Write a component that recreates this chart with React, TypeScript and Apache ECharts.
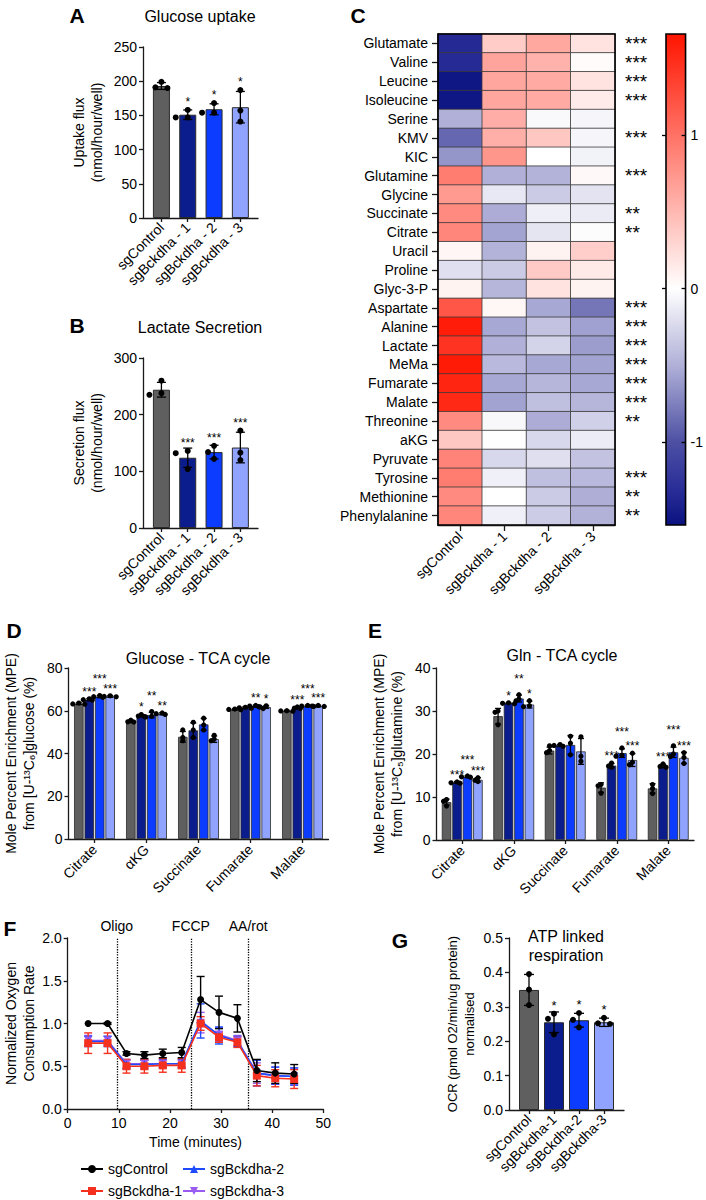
import React, { useEffect, useRef } from "react";
import * as echarts from "echarts";

const FONT = "'Liberation Sans', Arial, Helvetica, sans-serif";

// ---------- shared categories / colours ----------
const barCats = ["sgControl", "sgBckdha - 1", "sgBckdha - 2", "sgBckdha - 3"];
const gCats = ["sgControl", "sgBckdha-1", "sgBckdha-2", "sgBckdha-3"];
const barColors = ["#5f5f5f", "#0b1d8c", "#0c3cff", "#8fa3ff"];

// ---------- A: glucose uptake ----------
const aMeans = [193, 151, 159, 162];
const aErr = [5, 7, 8, 23];
const aPoints = [[199, 191, 190], [158, 147, 147], [168, 154, 154], [187, 157, 141]];
const aStars = ["", "*", "*", "*"];

// ---------- B: lactate secretion ----------
const bMeans = [244, 124, 134, 142];
const bErr = [13, 17, 12, 27];
const bPoints = [[260, 235, 238], [136, 104, 132], [145, 134, 122], [172, 133, 120]];
const bStars = ["", "***", "***", "***"];

// ---------- C: heatmap ----------
const metabolites = ["Glutamate", "Valine", "Leucine", "Isoleucine", "Serine", "KMV", "KIC", "Glutamine", "Glycine", "Succinate", "Citrate", "Uracil", "Proline", "Glyc-3-P", "Aspartate", "Alanine", "Lactate", "MeMa", "Fumarate", "Malate", "Threonine", "aKG", "Pyruvate", "Tyrosine", "Methionine", "Phenylalanine"];
const hmControl = [-1.34, -1.33, -1.5, -1.5, -0.5, -0.88, -0.64, 0.93, 0.72, 0.83, 0.86, 0.07, -0.2, 0.09, 1.2, 1.6, 1.45, 1.62, 1.55, 1.52, 0.83, 0.4, 0.88, 0.93, 0.83, 0.86];
const hmKo1 = [0.36, 0.65, 0.63, 0.63, 0.58, 0.57, 0.75, -0.5, -0.15, -0.52, -0.56, -0.48, -0.33, -0.46, 0.06, -0.54, -0.5, -0.44, -0.54, -0.57, -0.05, -0.01, -0.25, -0.09, 0, -0.09];
const hmKo2 = [0.62, 0.55, 0.6, 0.6, -0.04, 0.4, 0, -0.48, -0.33, -0.1, -0.17, 0.09, 0.38, 0.2, -0.54, -0.38, -0.28, -0.54, -0.46, -0.41, -0.52, -0.25, -0.2, -0.41, -0.33, -0.32];
const hmKo3 = [0.2, 0.03, 0.2, 0.14, -0.06, -0.06, -0.08, 0.05, -0.18, -0.13, -0.02, 0.35, 0.15, 0.09, -0.8, -0.58, -0.6, -0.57, -0.54, -0.46, -0.3, -0.12, -0.38, -0.44, -0.51, -0.49];
const hmStars = ["***", "***", "***", "***", "", "***", "", "***", "", "**", "**", "", "", "", "***", "***", "***", "***", "***", "***", "**", "", "", "***", "**", "**"];
const cbMin = -1.54;
const cbMax = 1.66;
const cbTicks = [-1, 0, 1];

// ---------- D / E: TCA labelling ----------
const tcaCats = ["Citrate", "αKG", "Succinate", "Fumarate", "Malate"];
const dMeans = [
  [63.3, 55.0, 47.8, 60.6, 59.9],
  [65.2, 57.6, 50.8, 61.4, 61.3],
  [66.6, 58.0, 53.6, 62.2, 62.2],
  [66.7, 58.6, 46.7, 61.7, 62.2],
];
const dErr = [
  [0.4, 0.6, 2.5, 0.3, 0.3],
  [0.5, 0.5, 3.5, 0.4, 0.5],
  [0.5, 1.3, 2.8, 0.4, 0.4],
  [0.4, 0.5, 1.5, 0.6, 0.4],
];
const dPoints = [
  [[63.6, 63.2, 63.1], [55.6, 54.8, 54.7], [51, 46, 47.5], [60.8, 60.6, 60.5], [60.0, 59.9, 59.8]],
  [[65.6, 65.2, 65.0], [58.2, 57.5, 57.3], [54.6, 51, 47.5], [61.6, 61.4, 61.2], [61.8, 61.2, 61.0]],
  [[67.1, 66.6, 66.3], [59.6, 57.4, 57.1], [56.5, 53.3, 51], [62.5, 62.2, 61.9], [62.5, 62.2, 62.0]],
  [[67.0, 66.7, 66.5], [59.0, 58.6, 58.3], [48.5, 46, 46.8], [62.3, 61.8, 61.0], [62.5, 62.2, 62.0]],
];
const dStars = [
  ["", "", "", "", ""],
  ["***", "*", "", "", "***"],
  ["***", "**", "", "**", "***"],
  ["***", "**", "", "*", "***"],
];
const eMeans = [
  [8.8, 28.8, 20.8, 12.2, 12.0],
  [13.4, 31.8, 22.0, 17.3, 17.2],
  [14.7, 32.9, 22.1, 20.2, 20.4],
  [14.0, 31.5, 20.6, 18.6, 19.1],
];
const eErr = [
  [0.7, 1.8, 0.8, 1.1, 1.1],
  [0.2, 0.1, 0.2, 0.5, 0.4],
  [0.2, 0.8, 2.2, 1.0, 1.2],
  [0.5, 0.8, 3.0, 1.5, 1.3],
];
const ePoints = [
  [[9.4, 9.0, 7.9], [30, 29.7, 26.8], [21.9, 20.8, 20.3], [12.9, 12.6, 10.9], [12.9, 12.0, 10.8]],
  [[13.5, 13.3, 13.2], [31.9, 31.8, 31.7], [22.2, 22.0, 21.8], [17.9, 17.2, 16.9], [17.7, 17.1, 16.9]],
  [[14.9, 14.7, 14.6], [33.8, 32.8, 32.3], [24.1, 22.5, 19.8], [21.4, 19.7, 19.5], [21.9, 20.0, 19.4]],
  [[14.5, 13.9, 13.6], [32.4, 31.2, 31.0], [24, 19.5, 18.3], [20.2, 17.5, 18.1], [20.3, 19.2, 17.8]],
];
const eStars = [
  ["", "", "", "", ""],
  ["***", "*", "", "***", "***"],
  ["***", "**", "", "***", "***"],
  ["***", "*", "", "***", "***"],
];

// ---------- F: Seahorse OCR ----------
const times = [4.0, 7.8, 11.5, 15.0, 18.6, 22.3, 26.0, 29.6, 33.2, 37.0, 40.6, 44.3];
const ctrlOcr = [1.0, 1.0, 0.65, 0.63, 0.65, 0.66, 1.28, 1.13, 1.06, 0.45, 0.42, 0.41];
const ctrlErr = [0, 0.01, 0.02, 0.04, 0.05, 0.06, 0.27, 0.19, 0.16, 0.13, 0.12, 0.11];
const ko1Ocr = [0.77, 0.77, 0.5, 0.5, 0.51, 0.51, 1.0, 0.84, 0.78, 0.39, 0.36, 0.35];
const ko1Err = [0.12, 0.12, 0.08, 0.08, 0.08, 0.08, 0.08, 0.06, 0.06, 0.12, 0.1, 0.11];
const ko2Ocr = [0.79, 0.79, 0.52, 0.52, 0.53, 0.53, 1.03, 0.86, 0.79, 0.42, 0.39, 0.38];
const ko2Err = [0.06, 0.06, 0.05, 0.05, 0.05, 0.05, 0.2, 0.1, 0.06, 0.15, 0.1, 0.1];
const ko3Ocr = [0.8, 0.8, 0.53, 0.53, 0.53, 0.53, 1.01, 0.87, 0.8, 0.42, 0.39, 0.38];
const ko3Err = [0.06, 0.05, 0.05, 0.04, 0.04, 0.04, 0.12, 0.08, 0.06, 0.12, 0.1, 0.1];
const injTimes = [9.6, 24.1, 35.3];
const injNames = ["Oligo", "FCCP", "AA/rot"];
const lineNames = ["sgControl", "sgBckdha-1", "sgBckdha-2", "sgBckdha-3"];
const lineColors = ["#000000", "#f5301e", "#1f4bff", "#9a5cf0"];

// ---------- G: ATP linked respiration ----------
const gMeans = [0.349, 0.255, 0.261, 0.255];
const gErr = [0.045, 0.03, 0.02, 0.012];
const gPoints = [[0.395, 0.35, 0.305], [0.28, 0.265, 0.22], [0.282, 0.262, 0.24], [0.268, 0.252, 0.25]];
const gStars = ["", "*", "*", "*"];

// ---------- helpers ----------
const hex = (c: string) => [1, 3, 5].map((k) => parseInt(c.slice(k, k + 2), 16));
const toHex = (a: number[]) => "#" + a.map((v) => Math.round(v).toString(16).padStart(2, "0")).join("");
const colorStops: [number, string][] = [
  [cbMin, "#0a1280"],
  [-1.3, "#2a2e98"],
  [-1.0, "#4d50a3"],
  [-0.5, "#b0b0d8"],
  [0, "#ffffff"],
  [cbMax, "#ff1500"],
];
function colorAt(v: number) {
  for (let k = 0; k < colorStops.length - 1; k++) {
    const [v0, c0] = colorStops[k];
    const [v1, c1] = colorStops[k + 1];
    if (v <= v1 + 1e-9) {
      const t = Math.max(0, Math.min(1, (v - v0) / (v1 - v0)));
      const a = hex(c0), b = hex(c1);
      return toHex(a.map((x, i) => x + (b[i] - x) * t));
    }
  }
  return colorStops[colorStops.length - 1][1];
}
const NSTEP = 161;
const vmColors = Array.from({ length: NSTEP }, (_, k) => colorAt(cbMin + (k * (cbMax - cbMin)) / (NSTEP - 1)));

const axLine = (show = true) => ({ show, onZero: false, lineStyle: { color: "#1a1a1a", width: 1.3 } });
const axTick = (len = 4, inside = false) => ({ show: true, length: len, inside, lineStyle: { color: "#1a1a1a", width: 1.3 } });
const lbl = (size: number, extra: any = {}) => ({ color: "#000", fontSize: size, fontFamily: FONT, ...extra });

function overlay(xi: number, yi: number, means: number[], errs: number[], pts: number[][], stars: string[], o: any) {
  return {
    type: "custom",
    xAxisIndex: xi,
    yAxisIndex: yi,
    z: 6,
    silent: true,
    data: means.map((m, i) => [i, m]),
    encode: { x: 0, y: 1 },
    renderItem: (params: any, api: any) => {
      const i = params.dataIndex;
      const base = api.coord([i, means[i]]);
      const x = base[0] + o.offset;
      const hiY = api.coord([i, means[i] + errs[i]])[1];
      const loY = api.coord([i, means[i] - errs[i]])[1];
      const ch: any[] = [];
      const ls = { stroke: "#000", lineWidth: 1.3 };
      if (errs[i] > 0) {
        ch.push({ type: "line", shape: { x1: x, y1: hiY, x2: x, y2: loY }, style: ls });
        ch.push({ type: "line", shape: { x1: x - o.cap, y1: hiY, x2: x + o.cap, y2: hiY }, style: ls });
        ch.push({ type: "line", shape: { x1: x - o.cap, y1: loY, x2: x + o.cap, y2: loY }, style: ls });
      }
      const r = o.r;
      const ys = pts[i].map((v) => api.coord([i, v])[1]).sort((a: number, b: number) => a - b);
      const placed: number[][] = [];
      for (const y of ys) {
        let done = false;
        for (const k of [0, -1, 1, -2, 2]) {
          const dx = k * o.spread;
          if (placed.every((p) => Math.hypot(p[0] - dx, p[1] - y) >= o.minDist)) {
            placed.push([dx, y]);
            done = true;
            break;
          }
        }
        if (!done) placed.push([0, y]);
      }
      placed.forEach((p) => ch.push({ type: "circle", shape: { cx: x + p[0], cy: p[1], r }, style: { fill: "#000" } }));
      const s = stars[i];
      if (s) {
        const top = Math.min(hiY, ys[0] - r);
        const raise = o.raise ? o.raise[i] : 0;
        ch.push({
          type: "text",
          x,
          y: top - o.starGap - raise,
          style: { text: s, fill: "#000", font: `${o.starSize}px ${FONT}`, align: "center", verticalAlign: "middle", textAlign: "center", textVerticalAlign: "middle" },
        });
      }
      return { type: "group", children: ch };
    },
  };
}

function errSeries(vals: number[], errs: number[], color: string) {
  return {
    type: "custom",
    xAxisIndex: 6,
    yAxisIndex: 8,
    z: 3,
    silent: true,
    data: times.map((t, i) => [t, vals[i]]),
    encode: { x: 0, y: 1 },
    renderItem: (params: any, api: any) => {
      const i = params.dataIndex;
      const hi = api.coord([times[i], vals[i] + errs[i]]);
      const lo = api.coord([times[i], vals[i] - errs[i]]);
      const x = hi[0];
      const st = { stroke: color, lineWidth: 1.4 };
      const cap = 4;
      if (errs[i] <= 0) return { type: "group", children: [] };
      return {
        type: "group",
        children: [
          { type: "line", shape: { x1: x, y1: hi[1], x2: x, y2: lo[1] }, style: st },
          { type: "line", shape: { x1: x - cap, y1: hi[1], x2: x + cap, y2: hi[1] }, style: st },
          { type: "line", shape: { x1: x - cap, y1: lo[1], x2: x + cap, y2: lo[1] }, style: st },
        ],
      };
    },
  };
}

function barValueXAxis(grid: number, min: number, max: number, cats: string[]) {
  return {
    type: "value",
    gridIndex: grid,
    min,
    max,
    axisLine: axLine(),
    axisTick: { ...axTick(4), customValues: [0, 1, 2, 3] },
    splitLine: { show: false },
    axisLabel: lbl(14, { rotate: 45, margin: 7, customValues: [0, 1, 2, 3], formatter: (v: number) => cats[Math.round(v)] }),
  };
}

function valueYAxis(grid: number, max: number, interval: number, name: string, nameGap: number, nameSize: number, dec = 0) {
  return {
    type: "value",
    gridIndex: grid,
    min: 0,
    max,
    interval,
    axisLine: axLine(),
    axisTick: axTick(4),
    splitLine: { show: false },
    axisLabel: lbl(14, { margin: 6, formatter: (v: number) => v.toFixed(dec) }),
    name,
    nameLocation: "middle",
    nameGap,
    nameTextStyle: lbl(nameSize, { lineHeight: nameSize + 4 }),
  };
}

function buildOption() {
  const series: any[] = [];

  // A
  series.push({
    type: "bar", xAxisIndex: 0, yAxisIndex: 0, barWidth: 17,
    data: aMeans.map((m, i) => ({ value: [i, m], itemStyle: { color: barColors[i] } })),
    itemStyle: { borderColor: "#2a2a2a", borderWidth: 1 },
  });
  series.push(overlay(0, 0, aMeans, aErr, aPoints, aStars, { offset: 0, cap: 4.5, r: 3, spread: 6, minDist: 7, starGap: 5, starSize: 12 }));
  // B
  series.push({
    type: "bar", xAxisIndex: 1, yAxisIndex: 1, barWidth: 17,
    data: bMeans.map((m, i) => ({ value: [i, m], itemStyle: { color: barColors[i] } })),
    itemStyle: { borderColor: "#2a2a2a", borderWidth: 1 },
  });
  series.push(overlay(1, 1, bMeans, bErr, bPoints, bStars, { offset: 0, cap: 4.5, r: 3, spread: 6, minDist: 7, starGap: 5, starSize: 12 }));

  // C heatmap
  const heatData: number[][] = [];
  const cols = [hmControl, hmKo1, hmKo2, hmKo3];
  cols.forEach((col, ci) => col.forEach((v, ri) => heatData.push([ci, ri, v])));
  const heatIndex = series.length;
  series.push({
    type: "heatmap", xAxisIndex: 2, yAxisIndex: 2, data: heatData,
    itemStyle: { borderColor: "#3a3a3a", borderWidth: 0.8 },
    emphasis: { disabled: true },
  });

  // D & E grouped bars
  const offsets = [-15.7, -5.2, 5.2, 15.7];
  const grouped = (xi: number, yi: number, means: number[][], errs: number[][], pts: number[][][], stars: string[][]) => {
    means.forEach((m, s) => {
      series.push({
        type: "bar", xAxisIndex: xi, yAxisIndex: yi, barWidth: 9.5, barGap: "10%",
        data: m, itemStyle: { color: barColors[s], borderColor: "#2a2a2a", borderWidth: 0.8 },
      });
    });
    means.forEach((m, s) => {
      const raise = m.map((_, i) => (s === 2 && stars[1][i] && stars[3][i] ? 9 : 0));
      series.push(overlay(xi, yi, m, errs[s], pts[s], stars[s], { offset: offsets[s], cap: 3, r: 2.6, spread: 3, minDist: 3.2, starGap: 4.5, starSize: 12, raise }));
    });
  };
  grouped(4, 6, dMeans, dErr, dPoints, dStars);
  grouped(5, 7, eMeans, eErr, ePoints, eStars);

  // F
  const ocr = [ctrlOcr, ko1Ocr, ko2Ocr, ko3Ocr];
  const ocrErr = [ctrlErr, ko1Err, ko2Err, ko3Err];
  const symbols = ["circle", "rect", "triangle", "triangle"];
  const rot = [0, 0, 0, 180];
  [3, 2, 1, 0].forEach((k) => series.push(errSeries(ocr[k], ocrErr[k], lineColors[k])));
  [3, 2, 1, 0].forEach((k) => {
    const s: any = {
      name: lineNames[k], type: "line", xAxisIndex: 6, yAxisIndex: 8,
      data: times.map((t, i) => [t, ocr[k][i]]),
      symbol: symbols[k], symbolRotate: rot[k], symbolSize: k === 0 ? 7 : 8,
      lineStyle: { color: lineColors[k], width: 1.6 }, itemStyle: { color: lineColors[k] },
      z: 4 + (3 - k), silent: true,
    };
    if (k === 0) {
      s.markLine = {
        silent: true, symbol: ["none", "none"],
        lineStyle: { type: "dotted", color: "#000", width: 1.3 },
        label: { show: true, position: "end", formatter: "{b}", color: "#000", fontSize: 14, fontFamily: FONT, distance: 5 },
        data: injTimes.map((t, j) => ({ xAxis: t, name: injNames[j] })),
      };
    }
    series.push(s);
  });

  // G
  series.push({
    type: "bar", xAxisIndex: 7, yAxisIndex: 9, barWidth: 20,
    data: gMeans.map((m, i) => ({ value: [i, m], itemStyle: { color: barColors[i] } })),
    itemStyle: { borderColor: "#2a2a2a", borderWidth: 1 },
  });
  series.push(overlay(7, 9, gMeans, gErr, gPoints, gStars, { offset: 0, cap: 5, r: 3, spread: 6, minDist: 7, starGap: 5, starSize: 13 }));

  const grid = [
    { left: 143, top: 47, width: 115, height: 171 },
    { left: 143, top: 358, width: 115, height: 170 },
    { left: 438, top: 34, width: 177, height: 491, show: true, borderColor: "#000", borderWidth: 1.6, backgroundColor: "transparent", z: 10 },
    {
      left: 666, top: 34, width: 21, height: 491, show: true, borderColor: "#000", borderWidth: 1.6,
      backgroundColor: new echarts.graphic.LinearGradient(0, 0, 0, 1, colorStops.slice().reverse().map(([v, c]) => ({ offset: (cbMax - v) / (cbMax - cbMin), color: c }))),
    },
    { left: 68.5, top: 668, width: 260, height: 171 },
    { left: 436.5, top: 668, width: 257.5, height: 172 },
    { left: 67.7, top: 938, width: 255.6, height: 171 },
    { left: 509, top: 938, width: 115, height: 172 },
  ];

  const xAxis: any[] = [
    barValueXAxis(0, -0.7, 3.67, barCats),
    barValueXAxis(1, -0.7, 3.67, barCats),
    {
      type: "category", gridIndex: 2, data: barCats,
      axisLine: axLine(), axisTick: { ...axTick(6), alignWithLabel: true },
      axisLabel: lbl(14, { rotate: 45, margin: 9, interval: 0 }),
    },
    { type: "value", gridIndex: 3, min: 0, max: 1, show: false },
    {
      type: "category", gridIndex: 4, data: tcaCats,
      axisLine: axLine(), axisTick: { ...axTick(4), alignWithLabel: true },
      axisLabel: lbl(14, { rotate: 45, margin: 8, interval: 0 }),
    },
    {
      type: "category", gridIndex: 5, data: tcaCats,
      axisLine: axLine(), axisTick: { ...axTick(4), alignWithLabel: true },
      axisLabel: lbl(14, { rotate: 45, margin: 8, interval: 0 }),
    },
    {
      type: "value", gridIndex: 6, min: 0, max: 50, interval: 10,
      axisLine: axLine(), axisTick: axTick(4), splitLine: { show: false },
      axisLabel: lbl(14, { margin: 7 }),
      name: "Time (minutes)", nameLocation: "middle", nameGap: 26, nameTextStyle: lbl(14),
    },
    barValueXAxis(7, -0.8, 3.8, gCats),
  ];

  const yAxis: any[] = [
    valueYAxis(0, 250, 50, "Uptake flux\n(nmol/hour/well)", 37, 14),
    valueYAxis(1, 300, 100, "Secretion flux\n(nmol/hour/well)", 37, 14),
    {
      type: "category", gridIndex: 2, data: metabolites, inverse: true,
      axisLine: axLine(), axisTick: { ...axTick(6), alignWithLabel: true },
      axisLabel: lbl(14, { margin: 10, interval: 0 }),
    },
    {
      type: "category", gridIndex: 2, data: metabolites, inverse: true, position: "right",
      axisLine: { show: false }, axisTick: { show: false },
      axisLabel: lbl(19, { margin: 10, interval: 0, formatter: (_: string, idx: number) => hmStars[idx] }),
    },
    {
      type: "value", gridIndex: 3, min: cbMin, max: cbMax, position: "right",
      axisLine: { show: false, onZero: false }, splitLine: { show: false },
      axisTick: { show: true, inside: true, length: 4, customValues: cbTicks, lineStyle: { color: "#000", width: 1.3 } },
      axisLabel: lbl(14, { margin: 5, customValues: cbTicks }),
    },
    {
      type: "value", gridIndex: 3, min: cbMin, max: cbMax, position: "left",
      axisLine: { show: false, onZero: false }, splitLine: { show: false },
      axisTick: { show: true, length: 4, customValues: cbTicks, lineStyle: { color: "#000", width: 1.3 } },
      axisLabel: { show: false },
    },
    valueYAxis(4, 80, 20, "Mole Percent Enrichment (MPE)\nfrom [U-¹³C₆]glucose (%)", 31, 14),
    valueYAxis(5, 40, 10, "Mole Percent Enrichment (MPE)\nfrom [U-¹³C₅]glutamine (%)", 31, 14),
    valueYAxis(6, 2, 0.5, "Normalized Oxygen\nConsumption Rate", 30, 14, 1),
    valueYAxis(7, 0.5, 0.1, "OCR (pmol O2/min/ug protein)\nnormalised", 31, 13, 1),
  ];

  const letters: [string, number, number][] = [
    ["A", 77, 15], ["B", 77, 325], ["C", 358, 15], ["D", 14, 630], ["E", 375, 630], ["F", 10, 928], ["G", 400, 940],
  ];
  const titles: [string, number, number][] = [
    ["Glucose uptake", 200, 16], ["Lactate Secretion", 200, 327], ["Glucose - TCA cycle", 198, 658],
    ["Gln - TCA cycle", 562, 655], ["ATP linked\nrespiration", 566, 946],
  ];
  const graphic: any[] = [
    ...letters.map(([t, x, y]) => ({
      type: "text", x, y, silent: true,
      style: { text: t, fill: "#000", font: `bold 21px ${FONT}`, align: "center", verticalAlign: "middle", textAlign: "center", textVerticalAlign: "middle" },
    })),
    ...titles.map(([t, x, y]) => ({
      type: "text", x, y, silent: true,
      style: { text: t, fill: "#000", font: `16px ${FONT}`, lineHeight: 19, align: "center", verticalAlign: "middle", textAlign: "center", textVerticalAlign: "middle" },
    })),
  ];

  const legendBase = {
    orient: "vertical", top: 1162, padding: 0, itemGap: 8, itemWidth: 22, itemHeight: 10,
    textStyle: lbl(14), selectedMode: false,
  };

  return {
    animation: false,
    backgroundColor: "#ffffff",
    textStyle: { fontFamily: FONT },
    grid,
    xAxis,
    yAxis,
    visualMap: {
      type: "continuous", show: false, seriesIndex: heatIndex, dimension: 2,
      min: cbMin, max: cbMax, inRange: { color: vmColors },
    },
    legend: [
      { ...legendBase, left: 80, data: ["sgControl", "sgBckdha-1"] },
      { ...legendBase, left: 182, data: ["sgBckdha-2", "sgBckdha-3"] },
    ],
    graphic,
    series,
  };
}

export default function App() {
  const ref = useRef<HTMLDivElement>(null);
  useEffect(() => {
    document.body.style.margin = "0";
    const chart = echarts.init(ref.current as HTMLDivElement, undefined, { renderer: "svg" });
    chart.setOption(buildOption() as any);
    return () => chart.dispose();
  }, []);
  return <div ref={ref} style={{ width: 706, height: 1200, overflow: "hidden" }} />;
}
